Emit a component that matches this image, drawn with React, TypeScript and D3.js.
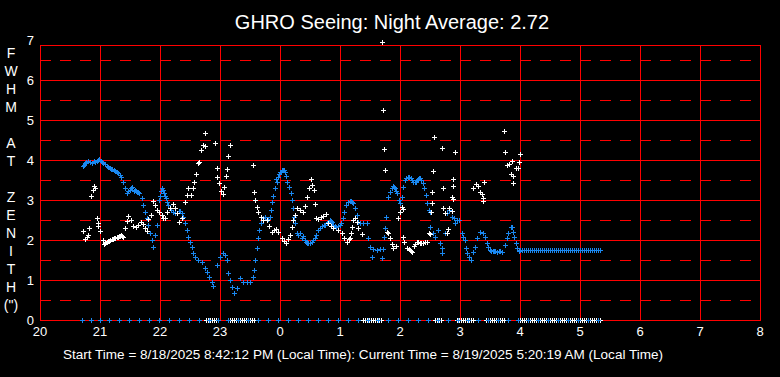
import React from "react";
import * as d3 from "d3";

// x values are minutes after 20:00 (local), y values are FWHM arcsec
const hourLabels = ["20", "21", "22", "23", "0", "1", "2", "3", "4", "5", "6", "7", "8"];
const yTickValues = [0, 1, 2, 3, 4, 5, 6, 7];
const axisLetters = ["F", "W", "H", "M", "", "A", "T", "", "Z", "E", "N", "I", "T", "H", "(\")"];

const blueSeeing: [number, number][] = [
  [43, 3.85], [44, 3.88], [45, 3.92], [46, 3.95], [48, 3.97], [50, 3.95], [52, 3.93], [54, 3.97], [55, 3.95],
  [57, 3.98], [58, 4.0], [59, 4.02], [61, 3.98], [62, 3.95], [63, 3.92], [65, 3.9], [67, 3.85], [68, 3.83],
  [70, 3.8], [71, 3.78], [72, 3.77], [74, 3.75], [75, 3.73], [77, 3.7], [78, 3.68], [80, 3.63], [81, 3.58],
  [83, 3.45], [85, 3.3], [87, 3.18], [88, 3.22], [90, 3.25], [91, 3.3], [92, 3.33], [94, 3.22], [95, 3.25],
  [96, 3.22], [97, 3.21], [98, 3.2], [99, 3.17], [102, 3.04], [103, 2.88], [105, 2.71], [107, 2.54],
  [108, 2.38], [110, 2.17], [112, 2.0], [113, 1.82], [115, 2.12], [117, 2.38], [119, 3.0], [120, 3.1],
  [121, 3.22], [122, 3.29], [123, 3.25], [124, 3.17], [125, 3.1], [126, 3.04], [127, 2.95], [128, 2.88],
  [130, 2.8], [131, 2.75], [133, 2.71], [135, 2.68], [137, 2.67], [139, 2.73], [140, 2.72],
  [142, 2.67], [143, 2.57], [145, 2.42], [147, 2.25], [148, 2.08], [150, 1.96], [152, 1.83], [153, 1.67],
  [155, 1.58], [158, 1.5], [162, 1.46], [165, 1.29], [167, 1.21], [169, 1.08], [172, 0.96], [173, 0.85],
  [177, 1.38], [180, 1.58], [183, 1.68], [185, 1.63], [187, 1.5], [188, 1.17], [190, 1.0], [192, 0.83],
  [194, 0.67], [197, 0.8], [200, 1.05], [203, 0.96], [207, 0.95], [210, 0.96], [213, 1.08], [214, 1.25],
  [215, 1.5], [217, 1.79], [218, 2.04], [219, 2.25], [221, 2.42], [223, 2.54], [225, 2.58], [228, 2.52],
  [230, 2.58], [231, 2.75], [232, 2.96], [233, 3.1], [235, 3.3], [236, 3.52], [237, 3.46], [238, 3.58],
  [239, 3.65], [240, 3.7], [241, 3.71], [242, 3.74], [243, 3.75], [244, 3.74], [245, 3.71], [246, 3.6],
  [247, 3.46], [249, 3.33], [251, 3.17], [252, 3.0], [253, 2.79], [254, 2.58],
  [255, 2.42], [257, 2.17], [258, 2.12], [260, 2.17], [262, 2.05], [263, 2.1], [265, 2.0], [266, 1.95],
  [267, 1.92], [268, 1.93], [270, 1.93], [272, 1.96], [273, 2.0], [275, 2.05], [276, 2.12], [278, 2.25],
  [280, 2.3], [282, 2.35], [284, 2.37], [285, 2.38], [287, 2.43], [288, 2.46], [290, 2.5], [291, 2.48],
  [292, 2.45], [293, 2.38], [295, 2.35], [296, 2.33], [298, 2.35], [300, 2.38], [301, 2.42], [303, 2.54],
  [304, 2.71], [306, 2.88], [308, 2.96], [310, 2.98], [311, 2.98], [312, 2.96],
  [313, 2.92], [315, 2.79], [317, 2.63], [318, 2.46], [320, 2.42], [323, 2.42], [327, 2.42], [328, 2.04],
  [330, 1.83], [333, 1.77], [337, 1.75], [340, 1.77], [343, 1.77], [332, 1.58], [342, 1.54], [344, 2.08],
  [345, 2.29], [346, 2.58], [348, 3.08], [350, 3.21], [352, 3.3], [353, 3.34], [354, 3.32], [355, 3.29],
  [356, 3.22], [357, 3.17], [359, 3.0],
  [360, 2.92], [362, 3.08], [363, 3.33], [365, 3.5], [366, 3.56], [368, 3.58], [369, 3.57], [371, 3.54],
  [372, 3.5], [373, 3.46], [375, 3.45], [376, 3.46], [377, 3.5], [378, 3.52], [379, 3.55], [380, 3.55],
  [381, 3.5], [383, 3.42], [384, 3.29], [386, 3.13], [387, 2.92], [389, 2.75], [390, 2.71],
  [390, 2.33], [393, 2.17], [395, 2.08], [398, 2.25], [400, 1.92], [402, 1.79], [402, 1.67], [405, 2.17],
  [407, 2.67], [409, 2.75], [412, 2.58], [414, 2.54], [417, 2.5], [419, 2.5], [415, 2.42], [422, 2.17],
  [423, 2.08], [425, 2.0], [426, 1.79], [427, 1.67], [429, 1.58], [431, 1.5], [433, 1.71], [435, 1.83],
  [437, 2.04], [440, 2.21], [443, 2.17], [445, 2.08], [447, 1.92], [448, 1.83], [450, 1.75], [451, 1.73],
  [453, 1.73], [454, 1.73], [455, 1.72], [457, 1.71], [459, 1.73], [460, 1.72], [462, 1.71], [465, 1.88],
  [467, 2.04], [468, 2.17], [471, 2.33], [472, 2.33], [473, 2.21], [474, 2.08], [476, 1.92], [477, 1.8],
  [479, 1.73],
];

// constant-reading stretch of the blue series (minutes after 20:00), all at 1.75
const blueFlatTimes = [
  480, 482, 484, 486, 488, 490, 492, 494, 496, 498, 500, 502, 504, 506, 508, 510, 512, 514, 516, 518, 520,
  522, 524, 526, 528, 530, 532, 534, 536, 538, 540, 542, 544, 546, 548, 550, 552, 554, 556, 558, 560,
];
const blueFlatValue = 1.75;

const whiteSeeing: [number, number][] = [
  [43, 2.22], [45, 2.03], [47, 2.08], [48, 2.12], [49, 2.29], [51, 3.1], [53, 3.25], [54, 3.35], [55, 3.29],
  [57, 2.56], [58, 2.43], [58, 2.35], [60, 2.22], [63, 2.0], [64, 1.9], [65, 1.93], [67, 1.96], [68, 1.97],
  [69, 1.98], [70, 2.0], [72, 2.02], [73, 2.03], [74, 2.04], [75, 2.05], [77, 2.07], [78, 2.08], [79, 2.1],
  [80, 2.1], [81, 2.12], [82, 2.1], [83, 2.08], [85, 2.29], [87, 2.48], [88, 2.61], [91, 2.5],
  [93, 2.35], [96, 2.33], [98, 2.37], [101, 2.46], [103, 2.4], [105, 2.29], [107, 2.23], [108, 2.52],
  [111, 2.63], [113, 2.98], [115, 2.88], [117, 2.75], [119, 2.71], [122, 2.63], [123, 2.54], [125, 2.56],
  [127, 2.71], [130, 2.79], [133, 2.9], [135, 2.79], [137, 2.67], [139, 2.46], [142, 2.54], [145, 2.96],
  [147, 3.13], [148, 3.29], [151, 3.13], [153, 3.29], [154, 3.46], [156, 3.65], [158, 3.92], [159, 3.96],
  [161, 4.25], [163, 4.38], [165, 4.35], [165, 4.67], [175, 4.42], [177, 3.79], [177, 3.57], [179, 3.42],
  [181, 3.23], [183, 3.15], [184, 3.33], [186, 3.6], [187, 3.77], [188, 4.1], [190, 4.38], [213, 3.88],
  [214, 3.21], [215, 3.0], [217, 2.82], [218, 2.71], [221, 2.58], [223, 2.5], [227, 2.5], [229, 2.35],
  [232, 2.21], [234, 2.25], [236, 2.27], [238, 2.21], [242, 2.04], [244, 1.98], [246, 1.92], [248, 2.02],
  [250, 2.12], [252, 2.33], [253, 2.5], [255, 2.63], [257, 2.79], [260, 2.75], [263, 2.71], [265, 2.85],
  [267, 3.08], [269, 3.29], [271, 3.52], [272, 3.38], [274, 3.25], [275, 2.89], [276, 2.56], [278, 2.52],
  [281, 2.58], [283, 2.6], [286, 2.64], [288, 2.42], [291, 2.35], [293, 2.29], [298, 2.25], [302, 2.18],
  [304, 2.04], [307, 1.96], [309, 2.03], [310, 2.04], [311, 2.17], [312, 2.33], [313, 2.5], [315, 2.54],
  [317, 2.46], [318, 2.29], [322, 2.14], [342, 6.96], [343, 5.25], [344, 4.27], [345, 3.75], [347, 2.21],
  [348, 2.18], [350, 2.04], [352, 1.9], [353, 1.79], [356, 1.85], [358, 2.54], [360, 2.71], [362, 2.83],
  [363, 2.77], [363, 2.08], [364, 1.96], [367, 1.79], [369, 1.77], [370, 1.75], [371, 1.73], [372, 1.71],
  [374, 1.85], [375, 1.9], [377, 1.96], [378, 1.95], [380, 1.93], [381, 1.93], [383, 1.92], [385, 1.95],
  [387, 1.96], [389, 2.17], [390, 2.14], [391, 2.71], [392, 2.92], [392, 3.21],
  [393, 3.73], [394, 4.58], [402, 4.29], [403, 3.29], [403, 2.79], [405, 2.67], [407, 2.17], [408, 2.27],
  [409, 2.79], [412, 2.73], [413, 3.02], [412, 3.08], [413, 3.36], [413, 3.52], [415, 4.19], [433, 3.29],
  [436, 3.4], [438, 3.36], [440, 3.21], [442, 3.15], [443, 2.98], [444, 3.46], [443, 3.04], [464, 4.72],
  [465, 4.19], [467, 3.88], [469, 3.9], [472, 3.98], [476, 3.79], [478, 3.79], [480, 4.14], [479, 3.96],
  [471, 3.65], [473, 3.6], [473, 3.42],
];

// white readings of zero (minutes after 20:00)
const whiteZeroTimes = [
  166, 168, 170, 172, 174, 176,
  190, 192, 194, 196, 198, 200, 202, 204, 206, 208, 210, 212, 214,
  323, 325, 327, 329, 331, 333, 335, 337, 339, 341,
  395, 397, 399, 401,
  417, 419, 421, 423, 425, 427, 429, 431, 433,
  446, 448, 450, 452, 454, 456, 458, 460, 462, 464,
  480, 482, 484, 486, 488, 490, 492, 494, 496, 498, 500, 502, 504, 506, 508, 510, 512, 514, 516, 518, 520,
  522, 524, 526, 528, 530, 532, 534, 536, 538, 540, 542, 544, 546, 548, 550, 552, 554, 556, 558, 560,
];

// blue readings of zero (minutes after 20:00)
const blueZeroTimes = [
  42, 51, 60, 69, 79, 89, 99, 109, 119, 129, 139, 149, 159, 169, 178, 188, 198, 208, 218, 228, 238, 248,
  258, 268, 278, 288, 298, 308, 318, 328, 338, 348, 358, 368, 378, 388, 398, 408, 418, 428, 438, 448, 458,
  468, 478, 488, 498, 508, 518, 528, 538, 548, 558,
];

const titleText = "GHRO Seeing: Night Average: 2.72";
const footerText =
  "Start Time = 8/18/2025 8:42:12 PM (Local Time): Current Time = 8/19/2025 5:20:19 AM (Local Time)";

const W = 780;
const H = 377;
const BLUE = "#1a88f0";
const RED = "#ff0000";
const FONT = "'Liberation Sans', Arial, sans-serif";

export default function App() {
  const x = d3.scaleLinear().domain([0, 720]).range([40, 760]);
  const y = d3.scaleLinear().domain([0, 7]).range([320, 40]);
  const plotTop = 45;

  const plus = (px: number, py: number) => {
    const cx = Math.round(px) + 0.5;
    const cy = Math.round(py) + 0.5;
    return `M${cx - 2.5},${cy}H${cx + 2.5}M${cx},${cy - 2.5}V${cy + 2.5}`;
  };

  const bluePath =
    blueSeeing.map(([m, v]) => plus(x(m), y(v))).join("") +
    blueFlatTimes.map((m) => plus(x(m), y(blueFlatValue))).join("");
  const whitePath = whiteSeeing.map(([m, v]) => plus(x(m), y(v))).join("");
  const whiteZeroPath = whiteZeroTimes.map((m) => plus(x(m), y(0))).join("");
  const blueZeroPath = blueZeroTimes.map((m) => plus(x(m), y(0))).join("");

  const hourTicks = hourLabels.map((_, i) => i * 60);
  const halfTicks = d3.range(0.5, 7, 1);
  const wholeTicks = [1, 2, 3, 4, 5, 6];

  return (
    <svg
      width={W}
      height={H}
      style={{ position: "absolute", left: 0, top: 0, display: "block", background: "#000" }}
      fontFamily={FONT}
    >
      <rect x={0} y={0} width={W} height={H} fill="#000" />
      <text x={392} y={29} fill="#fff" fontSize={20} textAnchor="middle">
        {titleText}
      </text>

      <g shapeRendering="crispEdges">
        {halfTicks.map((v) => (
          <line
            key={"d" + v}
            x1={x(0)}
            x2={x(720)}
            y1={Math.round(y(v)) + 0.5}
            y2={Math.round(y(v)) + 0.5}
            stroke={RED}
            strokeWidth={1}
            strokeDasharray="11,9"
          />
        ))}
        {wholeTicks.map((v) => (
          <line
            key={"h" + v}
            x1={x(0)}
            x2={x(720)}
            y1={Math.round(y(v)) + 0.5}
            y2={Math.round(y(v)) + 0.5}
            stroke={RED}
            strokeWidth={1}
          />
        ))}
        {hourTicks.map((m) => (
          <line
            key={"v" + m}
            x1={Math.round(x(m)) + 0.5}
            x2={Math.round(x(m)) + 0.5}
            y1={plotTop}
            y2={y(0)}
            stroke={RED}
            strokeWidth={1}
          />
        ))}
        <rect
          x={x(0) + 0.5}
          y={plotTop + 0.5}
          width={x(720) - x(0)}
          height={y(0) - plotTop}
          fill="none"
          stroke={RED}
          strokeWidth={1}
        />
      </g>

      <g shapeRendering="crispEdges" fill="none" strokeWidth={1}>
        <path d={whiteZeroPath} stroke="#fff" />
        <path d={blueZeroPath} stroke={BLUE} />
        <path d={bluePath} stroke={BLUE} />
        <path d={whitePath} stroke="#fff" />
      </g>

      {yTickValues.map((v) => (
        <text key={"yt" + v} x={34} y={y(v) + 4.5} fill="#fff" fontSize={13} textAnchor="end">
          {v}
        </text>
      ))}
      {hourLabels.map((l, i) => (
        <text key={"xt" + i} x={x(i * 60)} y={336} fill="#fff" fontSize={13} textAnchor="middle">
          {l}
        </text>
      ))}
      {axisLetters.map((c, i) => (
        <text key={"al" + i} x={11} y={58 + i * 18} fill="#fff" fontSize={14} textAnchor="middle">
          {c}
        </text>
      ))}
      <text x={63} y={359} fill="#fff" fontSize={12} textLength={600} lengthAdjust="spacingAndGlyphs">
        {footerText}
      </text>
    </svg>
  );
}
